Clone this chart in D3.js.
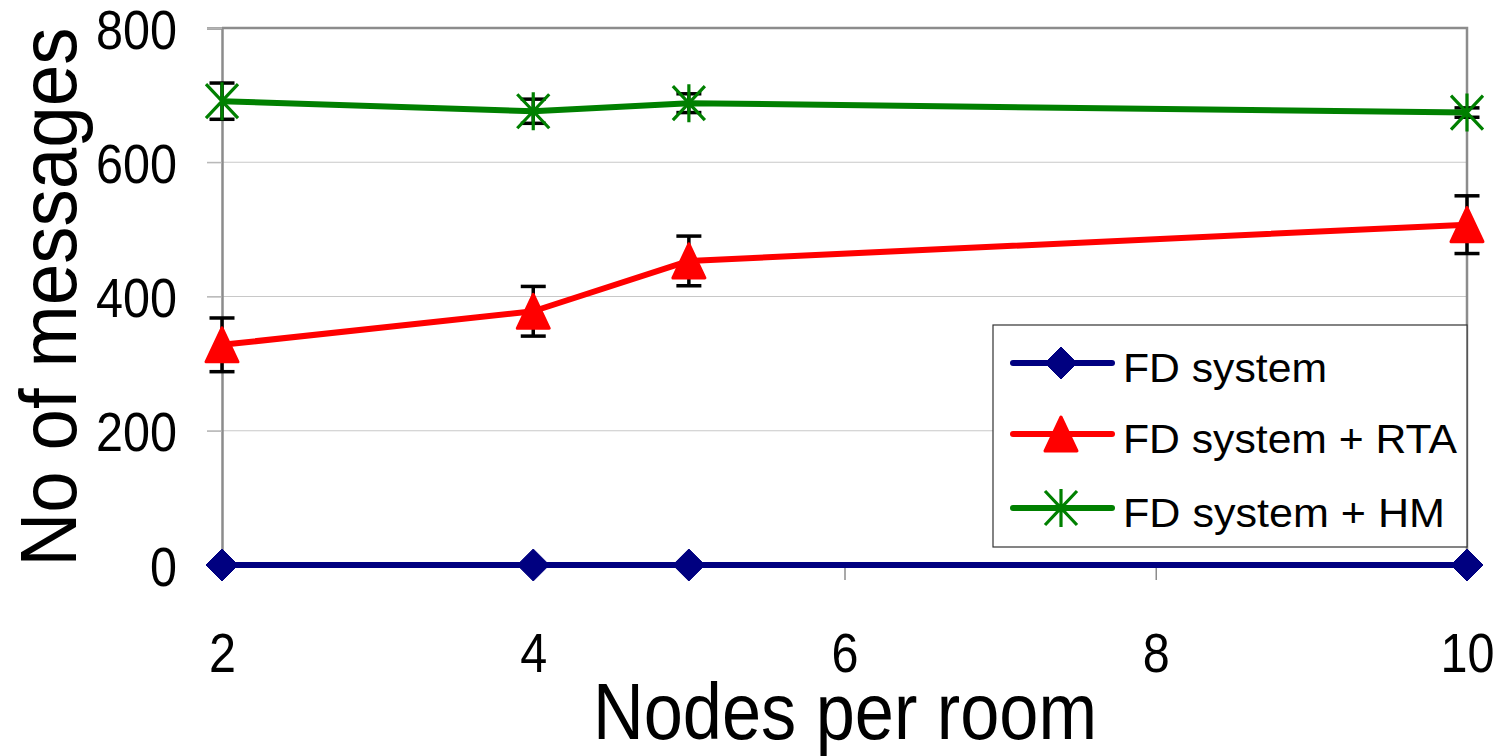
<!DOCTYPE html>
<html>
<head>
<meta charset="utf-8">
<script src="https://cdn.jsdelivr.net/npm/d3@7"></script>
<style>
    body { margin: 0; background: #fff; }
    text { font-family: "Liberation Sans Narrow", "Liberation Sans", sans-serif; fill: #000; }
</style>
</head>
<body>
<script>

var nodes = [2, 4, 5, 10];

var fdSystem = [0, 0, 0, 0];
var fdRta = [328, 378, 453, 507];
var fdRtaErr = [40, 37, 37, 43];
var fdHm = [691, 676, 688, 674];
var fdHmErr = [27, 18, 14, 7];

var xTicks = [2, 4, 6, 8, 10];
var yTicks = [0, 200, 400, 600, 800];

var seriesNames = ["FD system", "FD system + RTA", "FD system + HM"];
var seriesColors = ["#000080", "#ff0000", "#008000"];

var width = 1505, height = 756;

var svg = d3.select("body").append("svg")
    .attr("width", width)
    .attr("height", height);

var x = d3.scaleLinear().domain([2, 10]).range([222, 1467]);
var y = d3.scaleLinear().domain([0, 800]).range([565, 28]);

// digits in the original are narrow, squeeze them a bit
function narrowDigits(sel) {
    sel.attr("font-size", 56)
        .attr("textLength", function(){ return this.textContent.length * 27; })
        .attr("lengthAdjust", "spacingAndGlyphs");
}

// gridlines
svg.append("g")
    .selectAll("line")
    .data(yTicks.filter(function(d){ return d > 0 && d < 800; }))
    .enter()
    .append("line")
    .attr("x1", 207).attr("x2", x(10))
    .attr("y1", function(d){ return y(d); })
    .attr("y2", function(d){ return y(d); })
    .attr("stroke", "#c8c8c8")
    .attr("stroke-width", 1.2);

// y axis
var yAxis = svg.append("g")
    .attr("transform", "translate(" + x(2) + ",0)")
    .call(d3.axisLeft(y).tickValues(yTicks).tickSize(15).tickPadding(30));
yAxis.select(".domain").attr("stroke", "#8c8c8c").attr("stroke-width", 2.5);
yAxis.selectAll(".tick line").attr("stroke", "#b4b4b4").attr("stroke-width", 1.2);
yAxis.selectAll(".tick text")
    .attr("dy", "0.36em")
    .call(narrowDigits);

// x axis
var xAxis = svg.append("g")
    .attr("transform", "translate(0," + y(0) + ")")
    .call(d3.axisBottom(x).tickValues(xTicks).tickSize(15).tickPadding(52));
xAxis.select(".domain").attr("stroke", "#8c8c8c").attr("stroke-width", 2);
xAxis.selectAll(".tick line").attr("stroke", "#8c8c8c").attr("stroke-width", 1.5);
xAxis.selectAll(".tick text")
    .call(narrowDigits);

// frame top and right
svg.append("path")
    .attr("d", "M" + x(2) + "," + y(800) + "H" + x(10) + "V" + y(0))
    .attr("fill", "none")
    .attr("stroke", "#8c8c8c")
    .attr("stroke-width", 2.5);

// axis titles
svg.append("text")
    .attr("x", 845).attr("y", 739)
    .attr("text-anchor", "middle")
    .attr("font-size", 80)
    .attr("textLength", 504)
    .attr("lengthAdjust", "spacingAndGlyphs")
    .text("Nodes per room");

svg.append("text")
    .attr("transform", "translate(76,297) rotate(-90)")
    .attr("text-anchor", "middle")
    .attr("font-size", 80)
    .attr("textLength", 539)
    .attr("lengthAdjust", "spacingAndGlyphs")
    .text("No of messages");

function makeRows(vals, errs) {
    return nodes.map(function(n, i){
        return { n: n, v: vals[i], e: errs ? errs[i] : 0 };
    });
}

var series = [
    { name: seriesNames[0], color: seriesColors[0], marker: "diamond", rows: makeRows(fdSystem) },
    { name: seriesNames[1], color: seriesColors[1], marker: "triangle", rows: makeRows(fdRta, fdRtaErr) },
    { name: seriesNames[2], color: seriesColors[2], marker: "star", rows: makeRows(fdHm, fdHmErr) }
];

var line = d3.line()
    .x(function(d){ return x(d.n); })
    .y(function(d){ return y(d.v); });

// error bars
series.forEach(function(s){
    var eb = svg.append("g").selectAll("g")
        .data(s.rows.filter(function(d){ return d.e > 0; }))
        .enter().append("g")
        .attr("stroke", "#000")
        .attr("stroke-width", 3.5);
    eb.append("line")
        .attr("x1", function(d){ return x(d.n); })
        .attr("x2", function(d){ return x(d.n); })
        .attr("y1", function(d){ return y(d.v + d.e); })
        .attr("y2", function(d){ return y(d.v - d.e); });
    eb.append("line")
        .attr("x1", function(d){ return x(d.n) - 12.5; })
        .attr("x2", function(d){ return x(d.n) + 12.5; })
        .attr("y1", function(d){ return y(d.v + d.e); })
        .attr("y2", function(d){ return y(d.v + d.e); });
    eb.append("line")
        .attr("x1", function(d){ return x(d.n) - 12.5; })
        .attr("x2", function(d){ return x(d.n) + 12.5; })
        .attr("y1", function(d){ return y(d.v - d.e); })
        .attr("y2", function(d){ return y(d.v - d.e); });
});

function drawMarker(g, kind, color) {
    if (kind == "diamond") {
        g.append("path")
            .attr("d", "M0,-16L16,0L0,16L-16,0Z")
            .attr("fill", color)
            .attr("stroke", color)
            .attr("stroke-width", 1)
            .attr("stroke-linejoin", "round");
    } else if (kind == "triangle") {
        g.append("path")
            .attr("d", "M0,-17L16,17L-16,17Z")
            .attr("fill", color)
            .attr("stroke", color)
            .attr("stroke-width", 3)
            .attr("stroke-linejoin", "round");
    } else {
        g.append("path")
            .attr("d", "M-16,-17L16,17M16,-17L-16,17M0,-19V19")
            .attr("fill", "none")
            .attr("stroke", color)
            .attr("stroke-width", 3.2);
    }
}

// lines and markers
series.forEach(function(s){
    svg.append("path")
        .datum(s.rows)
        .attr("d", line)
        .attr("fill", "none")
        .attr("stroke", s.color)
        .attr("stroke-width", 6)
        .attr("stroke-linejoin", "round");
});

series.forEach(function(s){
    svg.append("g").selectAll("g")
        .data(s.rows)
        .enter().append("g")
        .attr("transform", function(d){ return "translate(" + x(d.n) + "," + y(d.v) + ")"; })
        .each(function(){ drawMarker(d3.select(this), s.marker, s.color); });
});

// legend
var legend = svg.append("g").attr("transform", "translate(993,325)");
legend.append("rect")
    .attr("width", 474).attr("height", 222)
    .attr("fill", "#fff")
    .attr("stroke", "#333")
    .attr("stroke-width", 1.2);

var legendWidths = [204, 334, 322];
var legendRows = [38, 109, 183];

var item = legend.selectAll(".item")
    .data(series)
    .enter().append("g")
    .attr("class", "item")
    .attr("transform", function(d, i){ return "translate(0," + legendRows[i] + ")"; });

item.append("line")
    .attr("x1", 20).attr("x2", 119)
    .attr("stroke", function(d){ return d.color; })
    .attr("stroke-width", 6)
    .attr("stroke-linecap", "round");

item.each(function(d){
    var g = d3.select(this).append("g").attr("transform", "translate(68,0)");
    drawMarker(g, d.marker, d.color);
});

item.append("text")
    .attr("x", 130)
    .attr("y", 19)
    .attr("font-size", 40)
    .attr("textLength", function(d, i){ return legendWidths[i]; })
    .attr("lengthAdjust", "spacingAndGlyphs")
    .text(function(d){ return d.name; });

</script>
</body>
</html>
